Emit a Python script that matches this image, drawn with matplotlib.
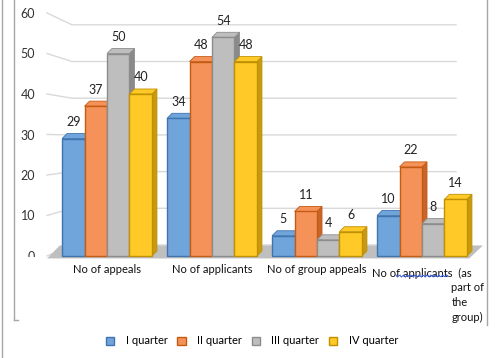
import matplotlib.pyplot as plt
from matplotlib.patches import Patch, Polygon
from matplotlib.lines import Line2D
import numpy as np

plt.rcParams['font.family'] = ['Lato', 'DejaVu Sans']

# data
categories = ['No of appeals', 'No of applicants', 'No of group appeals',
              'No of applicants  (as\npart of\nthe\ngroup)']
series = ['I quarter', 'II quarter', 'III quarter', 'IV quarter']
q1 = [29, 34, 5, 10]
q2 = [37, 48, 11, 22]
q3 = [50, 54, 4, 8]
q4 = [40, 48, 6, 14]
values = [q1, q2, q3, q4]

faces = ['#6FA5DB', '#F4925A', '#BEBEBE', '#FFCA28']
edges = ['#3F74AE', '#C55A11', '#8C8C8C', '#BF9000']
sides = ['#4A7FB8', '#C8652A', '#8A8A8A', '#C79A10']

fig = plt.figure(figsize=(5.01, 3.58), dpi=100)
ax = fig.add_axes([54.5 / 501, 1 - 256 / 358, 420 / 501, 243 / 358])
ax.set_xlim(-0.5, 3.5)
ax.set_ylim(0, 60)

# depth of the fake 3d effect in data units
dx = 5 / 105.0
dy = 5 / 4.05

# back wall gridlines with the diagonal part
for v in range(0, 61, 10):
    back = 2.72 + 0.906 * v
    ax.plot([-0.571, -0.333, 3.324], [v, back, back], color='#D9D9D9',
            lw=1, clip_on=False, zorder=0)

# floor
floor = Polygon([(-0.57, -0.6), (3.45, -0.6), (3.58, 2.6), (-0.45, 2.6)],
                closed=True, facecolor='#BFBFBF', edgecolor='none',
                clip_on=False, zorder=1)
ax.add_patch(floor)

x = np.arange(len(categories))
w = 0.214
z = 2
for g in range(len(categories)):
    for i, vals in enumerate(values):
        xl = x[g] - 2 * w + i * w
        h = vals[g]
        # right side face
        ax.add_patch(Polygon([(xl + w, 0), (xl + w + dx, dy), (xl + w + dx, h + dy), (xl + w, h)],
                             closed=True, facecolor=sides[i], edgecolor=edges[i],
                             lw=0.6, clip_on=False, zorder=z))
        # top face
        ax.add_patch(Polygon([(xl, h), (xl + dx, h + dy), (xl + w + dx, h + dy), (xl + w, h)],
                             closed=True, facecolor=faces[i], edgecolor=edges[i],
                             lw=0.6, clip_on=False, zorder=z))
        ax.bar(xl, h, w, align='edge', color=faces[i], edgecolor=edges[i],
               lw=1, zorder=z + 0.5, clip_on=False)
        ax.annotate(str(h), (xl + w / 2, h + dy), xytext=(0, 4),
                    textcoords='offset points', ha='center', va='bottom',
                    fontsize=9, color='#222222', zorder=10)
        z += 1

# axes styling
for s in ax.spines.values():
    s.set_visible(False)
ax.set_yticks(range(0, 61, 10))
ax.set_yticklabels([str(v) for v in range(0, 61, 10)], fontsize=9, color='#333333')
ax.tick_params(axis='y', length=0, pad=14)
ax.set_xticks(x[:3])
ax.set_xticklabels(categories[:3], fontsize=8, color='#111111')
ax.tick_params(axis='x', length=0, pad=6)

# last category label, wrapped like the original
lines = categories[3].split('\n')
ax.text(x[3], -2.9, lines[0], ha='center', va='top', fontsize=8, color='#111111')
ax.text(x[3] + 0.28, -6.4, '\n'.join(lines[1:]), ha='left', va='top',
        fontsize=8, color='#111111', linespacing=1.45)

# spell check squiggle under "applicants"
sx = np.linspace(396, 448, 40)
sy = 276 + 1.2 * np.sin(sx * 1.6)
fig.add_artist(Line2D(sx / 501, 1 - sy / 358, color='#3A5BE0', lw=0.7))

# hide lower half of the 0 label
fig.add_artist(plt.Rectangle((20 / 501, 1 - 266 / 358), 25 / 501, 9 / 358,
                             facecolor='white', edgecolor='none', zorder=20))

# outer frame lines
fig.add_artist(Line2D([14 / 501, 14 / 501], [1, 1 - 320 / 358], color='#A6A6A6', lw=1))
fig.add_artist(Line2D([14 / 501, 18 / 501], [1 - 320 / 358, 1 - 320 / 358], color='#A6A6A6', lw=1))
fig.add_artist(Line2D([1.5 / 501, 1.5 / 501], [0, 1], color='#A6A6A6', lw=1))
fig.add_artist(Line2D([487 / 501, 487 / 501], [1 - 325 / 358, 1], color='#A6A6A6', lw=1))

handles = [Patch(facecolor=faces[i], edgecolor=edges[i], label=series[i]) for i in range(4)]
fig.legend(handles=handles, loc='center', bbox_to_anchor=(252 / 501, 1 - 341 / 358),
           ncol=4, frameon=False, fontsize=8, handlelength=0.75, handleheight=0.75,
           columnspacing=0.9, handletextpad=1.0)

fig.savefig('out.png', dpi=100)
